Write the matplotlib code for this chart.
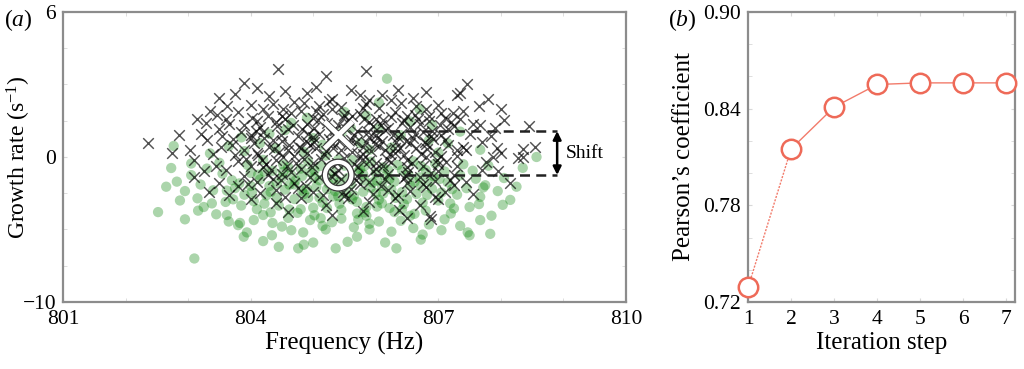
import matplotlib
matplotlib.use("Agg")
import matplotlib.pyplot as plt
import matplotlib.patheffects as pe
import numpy as np

plt.rcParams["font.family"] = ["Liberation Serif", "DejaVu Serif"]
plt.rcParams["mathtext.fontset"] = "custom"
plt.rcParams["mathtext.rm"] = "Liberation Serif"
plt.rcParams["mathtext.it"] = "Liberation Serif:italic"

# (a) growth rate vs frequency
black_pts = [
    (802.36, 0.97), (803.03, 0.5), (803.09, -1.4), (803.33, -2.4), (803.28, 2.35), (803.46, 2.9),
    (803.63, 3.5), (803.5, 4.1), (803.9, 5.1), (804.1, 4.75), (804.44, 6.1), (805.2, 5.6),
    (805.84, 5.9), (806.8, 4.5), (807.46, 5.0), (807.3, 4.3), (807.8, 4.0), (808.0, 3.3),
    (808.45, 2.15), (808.55, 0.7), (808.35, 0.0), (808.0, 0.3), (807.76, -0.35), (808.15, -1.8),
    (807.45, -1.7), (806.88, -4.3), (806.37, -3.65), (808.36, 0.55), (808.28, -0.07), (807.94, 0.6),
    (807.87, 0.0), (807.4, 0.7), (807.7, -0.9), (807.67, 2.2), (807.24, 3.0), (807.16, 1.9),
    (806.87, -4.1), (807.35, 4.4),
    (804.3, 4.2), (804.7, 3.8), (804.9, 4.4), (805.3, 4.0), (805.6, 4.6), (805.9, 3.9),
    (806.1, 4.3), (806.4, 3.7), (806.6, 4.1), (807.0, 3.6), (804.0, 3.6), (805.1, 3.5),
    (803.8, 3.1), (804.2, 3.3), (804.5, 2.8), (804.8, 3.2), (805.0, 2.7), (805.3, 3.3),
    (805.5, 2.9), (805.8, 3.4), (806.0, 2.6), (806.3, 3.1), (806.5, 2.8), (806.8, 3.3),
    (807.1, 2.7), (807.4, 3.2), (803.6, 2.6), (804.1, 2.5),
    (803.5, 1.9), (803.9, 2.2), (804.2, 1.7), (804.4, 2.4), (804.6, 1.9), (804.9, 2.3),
    (805.1, 1.6), (805.4, 2.2), (805.7, 1.8), (805.9, 2.4), (806.2, 2.0), (806.4, 1.6),
    (806.7, 2.3), (806.9, 1.8), (807.2, 2.4), (807.5, 1.6), (807.9, 2.0), (803.2, 1.6),
    (804.0, 1.5), (806.0, 1.5),
    (803.3, 1.2), (803.7, 0.8), (804.0, 1.3), (804.3, 0.7), (804.5, 1.1), (804.8, 0.6),
    (805.0, 1.4), (805.3, 0.9), (805.6, 1.2), (805.8, 0.7), (806.1, 1.1), (806.3, 0.6),
    (806.6, 1.3), (806.8, 0.9), (807.1, 1.2), (807.3, 0.5), (807.7, 1.0), (804.6, 0.5),
    (805.9, 1.4), (803.9, 0.5),
    (803.4, 0.2), (803.8, -0.3), (804.1, 0.3), (804.4, -0.2), (804.7, 0.1), (805.0, -0.4),
    (805.2, 0.4), (805.5, -0.1), (805.8, 0.2), (806.0, -0.4), (806.3, 0.3), (806.5, -0.2),
    (806.8, 0.0), (807.0, -0.5), (807.3, 0.1), (803.1, -0.2), (805.9, -0.3), (804.9, 0.3),
    (803.6, -0.9), (803.9, -1.3), (804.2, -0.7), (804.5, -1.2), (804.8, -0.8), (805.1, -1.4),
    (805.4, -0.9), (805.7, -1.3), (806.0, -0.8), (806.2, -1.2), (806.5, -0.7), (806.7, -1.4),
    (807.0, -1.0), (807.3, -0.6), (804.0, -0.6),
    (803.8, -2.0), (804.1, -1.7), (804.4, -2.3), (804.7, -1.8), (805.0, -2.4), (805.3, -1.9),
    (805.6, -2.2), (805.9, -1.7), (806.2, -2.3), (806.5, -1.8), (806.8, -2.1), (807.1, -2.4),
    (803.5, -1.8),
    (804.0, -2.9), (804.4, -3.2), (804.8, -2.8), (805.2, -3.3), (805.5, -2.7), (805.9, -3.1),
    (806.3, -2.8), (806.7, -3.3), (807.0, -2.9),
    (804.6, -3.8), (805.3, -4.0), (805.8, -3.7), (806.5, -4.2),
    (804.15, 2.05), (804.35, 1.15), (804.55, 2.65), (804.75, 1.45), (804.95, 0.85), (805.15, 2.95),
    (805.25, 1.25), (805.45, 0.45), (805.55, 2.55), (805.65, 1.55), (805.75, 0.05), (805.95, 2.15),
    (806.05, 0.75), (806.15, 1.85), (806.25, 2.75), (806.35, 1.35), (806.45, 0.15), (806.55, 2.05),
    (806.65, 0.65), (806.75, 1.75), (806.85, 2.85), (806.95, 0.35), (807.05, 1.55), (807.15, 0.85),
    (807.25, 2.15), (804.05, 0.95), (803.85, 1.75), (803.65, 2.25), (803.75, 0.15), (803.55, 1.45),
    (804.25, -0.45), (804.45, 0.35), (804.65, -1.05), (804.85, -0.15), (805.05, 0.65), (805.25, -0.75),
    (805.35, 1.85), (805.45, -1.55), (805.65, -0.45), (805.85, 1.05), (805.95, -0.95), (806.15, 0.45),
    (806.25, -0.35), (806.45, -1.45), (806.55, 0.95), (806.75, -0.65), (806.95, -1.65), (807.05, 0.05),
    (807.25, -1.25), (807.45, 0.45),
    (804.35, 3.65), (804.65, 3.05), (804.85, 3.75), (805.05, 3.15), (805.25, 3.85), (805.45, 3.45),
    (805.75, 2.95), (805.85, 3.65), (806.05, 3.35), (806.25, 3.95), (806.45, 2.55), (806.65, 3.55),
    (806.85, 2.45), (807.05, 3.05), (807.35, 2.65), (807.55, 2.25), (807.65, 3.55), (807.85, 1.45),
    (808.05, 2.55), (807.95, -0.95),
    (803.95, -1.85), (804.15, -2.45), (804.35, -1.55), (804.55, -2.75), (804.75, -2.15), (804.95, -1.35),
    (805.15, -2.65), (805.35, -1.15), (805.55, -2.85), (805.75, -1.85), (805.95, -2.55), (806.15, -1.55),
    (806.35, -2.65), (806.55, -2.35), (806.75, -1.85), (806.95, -2.75), (807.25, -1.95), (807.55, -2.55),
    (803.65, -2.65), (803.45, -0.65),
    (805.05, 4.85), (804.55, 4.55), (805.75, 4.25), (806.35, 4.65), (803.75, 4.35), (803.35, 3.15),
    (803.15, 2.65), (802.85, 1.55), (802.75, 0.25), (803.25, -0.95),
    (804.22, 1.32), (804.42, 2.12), (804.62, 0.82), (804.82, 1.92), (805.02, 1.02), (805.22, 2.32),
    (805.42, 1.12), (805.62, 0.32), (805.82, 2.62), (806.02, 1.32), (806.22, 0.22), (806.42, 2.32),
    (806.62, 1.62), (806.82, 0.52), (804.12, 0.12), (804.32, -0.92), (804.52, 0.02), (804.72, -0.42),
    (804.92, 1.62), (805.12, -0.12), (805.32, 0.62), (805.52, 1.92), (805.72, -0.72), (805.92, 0.42),
    (806.12, -0.62), (806.32, 1.02), (806.52, -1.02), (806.72, 0.22), (806.92, 1.22), (807.12, -0.32),
    (804.02, 2.72), (804.52, 3.32), (805.02, 2.02), (805.62, 2.82), (806.12, 2.52), (806.62, 2.92),
    (807.02, 2.22), (803.72, 1.22), (803.52, 0.72), (803.92, -0.12),
    (804.08, 1.82), (804.28, 2.82), (804.48, 1.52), (804.68, 2.22), (804.88, 1.12), (805.08, 2.52),
    (805.28, 1.72), (805.48, 2.72), (805.68, 1.02), (805.88, 1.72), (806.08, 2.22), (806.28, 1.52),
    (806.48, 1.12), (806.68, 2.62), (806.88, 1.42), (804.18, -0.22), (804.38, 0.52), (804.58, -0.62),
    (804.78, 0.72), (804.98, -0.72), (805.18, 0.22), (805.38, -0.42), (805.58, 0.82), (805.78, -0.22),
    (805.98, 0.92), (806.18, -0.12), (806.38, 0.62), (806.58, -0.42), (806.78, 1.02), (806.98, -0.22),
    (804.48, -1.62), (804.88, -2.02), (805.28, -1.32), (805.68, -1.62), (806.08, -2.02), (806.48, -1.32),
    (806.88, -1.12), (805.48, -2.42), (804.28, -1.22), (807.18, -1.62),
]

green_pts = [
    (802.52, -3.8), (802.77, 0.76), (802.73, -0.76), (802.95, -4.3), (803.1, -7.0), (806.18, 5.4),
    (808.57, 0.0), (807.83, -5.3), (807.5, -5.4), (803.89, -5.5), (804.2, -5.8), (804.45, -6.2),
    (804.76, -6.3), (805.36, -6.3), (806.15, -5.9), (806.33, -6.3), (806.72, -5.7), (808.15, -2.96),
    (808.03, -3.3), (807.67, -2.75), (807.72, -2.1), (807.5, -3.45), (807.67, -4.35), (807.47, -5.2),
    (807.19, -3.2), (807.2, -3.9), (807.67, 0.5), (802.82, -1.7), (802.87, -3.0), (803.16, -3.7),
    (803.38, -3.2), (803.62, -4.0), (803.83, -4.55), (803.94, -5.2), (804.34, -5.4), (804.84, -5.2),
    (805.0, -5.9), (805.7, -5.5), (805.9, -5.0),
    (803.4, -2.3), (803.7, -1.6), (803.5, -0.4), (803.9, 0.4), (803.6, -3.1), (803.9, -2.6),
    (804.0, -1.1), (804.2, -0.2), (804.1, -3.6), (804.3, -2.0), (804.5, -1.4), (804.4, 0.6),
    (804.6, -4.2), (804.7, -2.9), (804.8, -0.8), (804.9, -2.2), (805.0, -3.5), (805.1, -1.6),
    (805.2, 0.1), (805.3, -4.5), (805.4, -2.7), (805.5, -0.6), (805.6, -1.9), (805.7, -3.9),
    (805.8, -1.2), (805.9, 0.5), (806.0, -2.5), (806.1, -3.2), (806.2, -0.9), (806.3, -1.7),
    (806.4, -4.4), (806.5, -2.9), (806.6, -0.3), (806.7, -1.4), (806.8, -3.7), (806.9, -2.2),
    (807.0, 0.3), (807.1, -1.0), (807.3, -2.6), (807.4, -0.5), (805.0, 1.3), (805.6, 2.0),
    (804.9, 2.7), (806.4, 1.5), (806.9, 2.2), (804.3, 1.6), (805.5, 3.1), (806.7, 3.3),
    (805.3, -1.0), (804.8, -3.6), (805.9, -4.6), (806.1, -2.0), (805.1, -2.8), (804.5, -4.8),
    (806.6, -4.9), (807.1, -4.3), (803.8, -4.7), (807.6, -1.5), (807.8, -0.6), (804.0, -2.0),
    (805.7, -3.1), (806.3, -3.8), (805.2, -5.0), (804.2, -4.0), (807.0, -3.0), (803.3, -0.8),
    (803.2, -1.9), (806.0, -1.1), (805.4, -0.2), (804.6, -0.7), (805.8, -2.4), (806.8, -0.9),
    (804.7, -1.9),
    (803.55, -1.15), (803.75, -2.15), (803.95, -0.55), (804.05, -3.05), (804.15, -1.55), (804.25, -2.65),
    (804.35, -0.95), (804.45, -3.35), (804.55, -2.25), (804.65, -1.25), (804.75, -3.85), (804.85, -2.55),
    (804.95, -1.05), (805.05, -2.05), (805.15, -3.15), (805.25, -1.85), (805.35, -2.35), (805.45, -3.65),
    (805.55, -1.45), (805.65, -2.65), (805.75, -0.85), (805.85, -3.45), (805.95, -1.75), (806.05, -2.95),
    (806.15, -1.35), (806.25, -2.25), (806.35, -0.55), (806.45, -3.25), (806.55, -1.95), (806.65, -2.55),
    (806.75, -3.15), (806.85, -1.65), (806.95, -0.45), (807.05, -2.45), (807.15, -1.75), (807.25, -3.55),
    (807.35, -1.25), (807.45, -2.15), (807.55, -0.95), (807.75, -1.95),
    (803.45, -3.95), (803.65, -4.45), (803.85, -3.35), (804.05, -4.35), (804.35, -4.55), (804.65, -5.05),
    (804.95, -4.35), (805.15, -4.75), (805.45, -4.25), (805.65, -4.85), (805.85, -4.05), (806.05, -4.45),
    (806.25, -5.15), (806.55, -4.05), (806.85, -4.65), (807.05, -5.05), (807.35, -4.75), (806.75, -5.35),
    (805.55, -5.85), (804.85, -6.05),
    (803.35, 0.25), (803.65, 0.75), (803.85, 1.35), (804.15, 0.95), (804.55, 1.85), (804.85, 0.35),
    (805.15, 0.85), (805.45, 1.65), (805.75, 0.95), (806.05, 1.95), (806.25, 0.65), (806.55, 2.45),
    (806.85, 1.15), (807.15, 0.95), (807.35, 1.75), (805.85, 2.85), (804.65, 2.35), (806.05, 3.75),
    (803.05, -0.45), (803.15, -2.85),
    (802.95, -2.35), (803.05, -1.25), (803.25, -3.45), (802.65, -2.05), (808.35, -0.75), (808.05, -1.45),
    (807.95, -2.35), (808.25, -2.05), (807.85, -4.05), (807.65, -3.25),
    (804.12, -1.22), (804.32, -2.42), (804.52, -0.52), (804.72, -1.62), (804.92, -2.82), (805.12, -0.62),
    (805.32, -1.52), (805.52, -2.52), (805.72, -1.02), (805.92, -2.12), (806.12, -0.72), (806.32, -2.82),
    (806.52, -1.22), (806.72, -2.02), (806.92, -1.32), (804.22, -3.22), (804.62, -3.62), (805.02, -4.02),
    (805.42, -3.22), (805.82, -3.82), (806.22, -3.52), (806.62, -3.92), (805.22, -2.22), (805.62, -0.22),
    (806.02, -1.62), (804.82, -1.32), (805.02, -0.92), (805.82, -1.62), (806.42, -2.42), (804.42, -1.82),
    (803.82, -1.82), (803.72, -2.92), (804.02, -2.42), (804.22, -1.02), (804.42, -2.82), (804.62, -1.92),
    (804.82, -2.32), (805.02, -1.42), (805.22, -3.52), (805.42, -1.72), (805.62, -2.92), (805.82, -0.62),
    (806.02, -3.42), (806.22, -1.52), (806.42, -0.92), (806.62, -1.72), (806.82, -2.62), (807.02, -1.52),
    (804.32, -3.82), (805.12, -4.22), (805.72, -4.32), (806.42, -3.62), (803.62, -2.32), (804.92, -0.32),
    (805.92, -0.32), (804.52, -1.02), (805.32, -2.72), (806.12, -2.52), (806.72, -0.62), (807.22, -2.22),
]

mean_black = (805.4, 1.55)
mean_green = (805.4, -1.25)
shift_top, shift_bottom = 1.78, -1.24
shift_x = (805.7, 808.9)

# (b) Pearson's coefficient vs iteration
steps = [1, 2, 3, 4, 5, 6, 7]
pearson = [0.729, 0.815, 0.841, 0.855, 0.856, 0.856, 0.856]

spine_col = "#8c8c8c"
fig = plt.figure(figsize=(10.24, 3.69), dpi=100)


def style_axes(ax):
    for s in ax.spines.values():
        s.set_color(spine_col)
        s.set_linewidth(1.6)
    ax.tick_params(which="both", direction="in", top=True, right=True,
                   color="#d8d8d8", labelsize=15.5)
    ax.tick_params(which="major", length=3)
    ax.tick_params(which="minor", length=3)
    ax.tick_params(axis="x", pad=6)
    ax.tick_params(axis="y", pad=5)


ax1 = fig.add_axes([0.0615, 0.1816, 0.5498, 0.7859])
gx, gy = np.array(green_pts).T
bx, by = np.array(black_pts).T
ax1.scatter(gx, gy, s=55, color="green", alpha=0.33, edgecolors="none")
ax1.scatter(bx, by, s=58, marker="x", color="black", alpha=0.68, linewidths=1.05)

outline = [pe.Stroke(linewidth=4.8, foreground="#3a3a3a"), pe.Normal()]
ax1.plot([mean_black[0]], [mean_black[1]], ls="none", marker="x", markersize=20,
         markeredgewidth=3.5, color="white", path_effects=outline, zorder=5)
ax1.plot([mean_green[0]], [mean_green[1]], ls="none", marker="o", markersize=19,
         markeredgewidth=3.0, markerfacecolor="none", markeredgecolor="white",
         path_effects=outline, zorder=5)

ax1.plot(shift_x, [shift_top, shift_top], color="#222222", lw=1.8, ls=(0, (4, 2.5)), zorder=4)
ax1.plot(shift_x, [shift_bottom, shift_bottom], color="#222222", lw=1.8, ls=(0, (4, 2.5)), zorder=4)
ax1.annotate("", xy=(shift_x[1], shift_top), xytext=(shift_x[1], shift_bottom),
             arrowprops=dict(arrowstyle="<|-|>", color="black", lw=1.8,
                             mutation_scale=12, shrinkA=0, shrinkB=0), zorder=6)
ax1.text(shift_x[1] + 0.13, (shift_top + shift_bottom) / 2, "Shift",
         fontsize=14, va="center", ha="left")

ax1.set_xlim(801, 810)
ax1.set_ylim(-10, 10)
ax1.set_xticks([801, 804, 807, 810])
ax1.set_xticks(np.arange(801, 811), minor=True)
ax1.set_yticks([-10, 0, 10])
ax1.set_yticklabels(["\u221210", "0", "6"])
ax1.set_yticks(np.arange(-10, 10.1, 2.5), minor=True)
style_axes(ax1)
ax1.set_xlabel("Frequency (Hz)", fontsize=18, labelpad=2)
ax1.set_ylabel("Growth rate (s$^{\u22121}$)", fontsize=17)
ax1.yaxis.set_label_coords(-0.053, 0.5)
fig.text(0.004, 0.93, "($a$)", fontsize=17)

ax2 = fig.add_axes([0.7305, 0.1816, 0.2607, 0.7859])
salmon = "#f27b6b"
ax2.plot(steps[:2], pearson[:2], color=salmon, lw=1.0, ls=(0, (1.5, 1)), zorder=2)
ax2.plot(steps[1:], pearson[1:], color=salmon, lw=1.0, zorder=2)
ax2.plot(steps, pearson, ls="none", marker="o", markersize=14, markerfacecolor="white",
         markeredgecolor="#ee6a58", markeredgewidth=1.8, zorder=3, clip_on=False)
ax2.set_xlim(1, 7.2)
ax2.set_ylim(0.72, 0.90)
ax2.set_xticks(steps)
ax2.set_yticks([0.72, 0.78, 0.84, 0.90])
ax2.set_yticklabels(["0.72", "0.78", "0.84", "0.90"])
ax2.set_yticks(np.arange(0.72, 0.901, 0.02), minor=True)
style_axes(ax2)
ax2.set_xlabel("Iteration step", fontsize=18, labelpad=2)
ax2.set_ylabel("Pearson\u2019s coefficient", fontsize=18)
ax2.yaxis.set_label_coords(-0.20, 0.5)
fig.text(0.652, 0.93, "($b$)", fontsize=17)

fig.savefig("out.png", dpi=100)
